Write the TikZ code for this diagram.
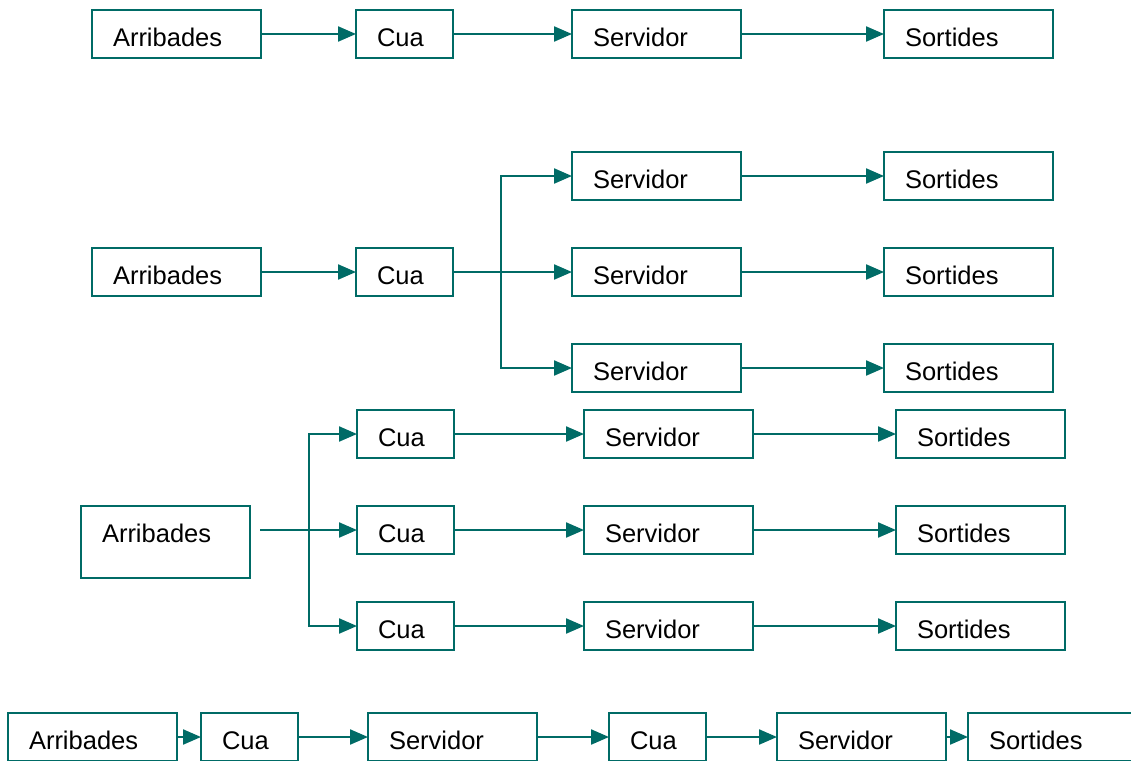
\documentclass[tikz,border=0pt]{standalone}
\usepackage{fontspec}
\setmainfont{Liberation Sans}
\usetikzlibrary{arrows.meta}
\definecolor{flowteal}{HTML}{006B66}
\tikzset{
  box/.style={draw=flowteal, line width=2.2pt, inner xsep=21pt, inner ysep=0pt,
    outer sep=0pt, text height=36pt, text depth=12pt, align=left,
    anchor=north west, font=\fontsize{25.5}{30}\selectfont},
  wide/.style={box, text width=127pt},
  narrow/.style={box, text width=55pt},
  tall/.style={text depth=36pt},
  flow/.style={draw=flowteal, line width=2.2pt, -{Triangle[length=18pt,width=15pt]}},
}
\begin{document}
\begin{tikzpicture}[x=1pt,y=-1pt]
\useasboundingbox (0,0) rectangle (1131,760);
\clip (0,0) rectangle (1131,760);

% single queue, single server
\node[wide]   (a1) at (92,10)  {Arribades};
\node[narrow] (c1) at (356,10) {Cua};
\node[wide]   (s1) at (572,10) {Servidor};
\node[wide]   (o1) at (884,10) {Sortides};
\draw[flow] (a1) -- (c1);
\draw[flow] (c1) -- (s1);
\draw[flow] (s1) -- (o1);

% single queue, three servers
\node[wide]   (a2)  at (92,248)  {Arribades};
\node[narrow] (c2)  at (356,248) {Cua};
\node[wide]   (s2a) at (572,152) {Servidor};
\node[wide]   (s2b) at (572,248) {Servidor};
\node[wide]   (s2c) at (572,344) {Servidor};
\node[wide]   (o2a) at (884,152) {Sortides};
\node[wide]   (o2b) at (884,248) {Sortides};
\node[wide]   (o2c) at (884,344) {Sortides};
\path (s2b.west) ++(-71,0) coordinate (j2);
\draw[flow] (a2) -- (c2);
\draw[flow] (c2) -- (s2b);
\draw[flow] (j2) |- (s2a.west);
\draw[flow] (j2) |- (s2c.west);
\draw[flow] (s2a) -- (o2a);
\draw[flow] (s2b) -- (o2b);
\draw[flow] (s2c) -- (o2c);

% three queues, three servers
\node[wide,tall] (a3)  at (81,506)  {Arribades};
\node[narrow]    (c3a) at (357,410) {Cua};
\node[narrow]    (c3b) at (357,506) {Cua};
\node[narrow]    (c3c) at (357,602) {Cua};
\node[wide]      (s3a) at (584,410) {Servidor};
\node[wide]      (s3b) at (584,506) {Servidor};
\node[wide]      (s3c) at (584,602) {Servidor};
\node[wide]      (o3a) at (896,410) {Sortides};
\node[wide]      (o3b) at (896,506) {Sortides};
\node[wide]      (o3c) at (896,602) {Sortides};
\path (c3b.west) ++(-97,0) coordinate (a3out);
\path (c3b.west) ++(-48,0) coordinate (j3);
\draw[flow] (a3out) -- (c3b.west);
\draw[flow] (j3) |- (c3a.west);
\draw[flow] (j3) |- (c3c.west);
\draw[flow] (c3a) -- (s3a);
\draw[flow] (c3b) -- (s3b);
\draw[flow] (c3c) -- (s3c);
\draw[flow] (s3a) -- (o3a);
\draw[flow] (s3b) -- (o3b);
\draw[flow] (s3c) -- (o3c);

% two stages in series
\node[wide]   (a4)  at (8,713)   {Arribades};
\node[narrow] (c4a) at (201,713) {Cua};
\node[wide]   (s4a) at (368,713) {Servidor};
\node[narrow] (c4b) at (609,713) {Cua};
\node[wide]   (s4b) at (777,713) {Servidor};
\node[wide]   (o4)  at (968,713) {Sortides};
\draw[flow] (a4) -- (c4a);
\draw[flow] (c4a) -- (s4a);
\draw[flow] (s4a) -- (c4b);
\draw[flow] (c4b) -- (s4b);
\draw[flow] (s4b) -- (o4);
\end{tikzpicture}
\end{document}
